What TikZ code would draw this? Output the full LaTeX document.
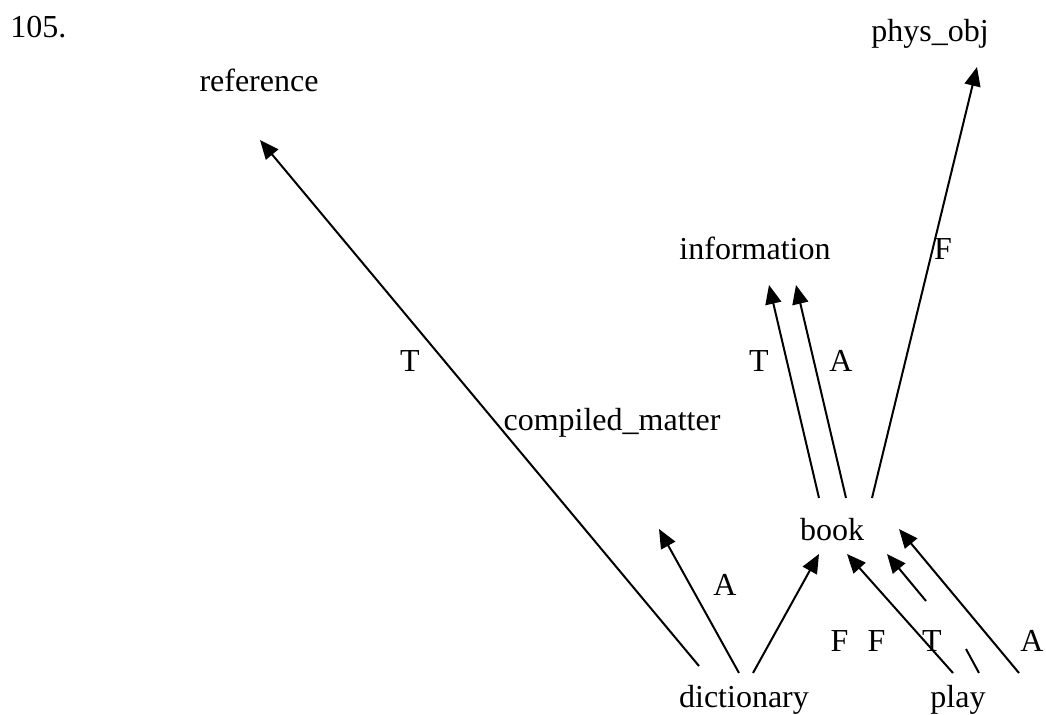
\documentclass[tikz,border=0pt]{standalone}
\usepackage{fontspec}
\setmainfont{Liberation Serif}
\usetikzlibrary{arrows.meta}

\begin{document}
\begin{tikzpicture}[x=0.5pt, y=-0.5pt,
  every node/.style={inner sep=0pt, anchor=base, font=\fontsize{16}{19}\selectfont},
  link/.style={-{Triangle[length=9.5pt,width=8pt]}, line width=1pt}]
  \useasboundingbox (0,0) rectangle (1046,715);
  % concepts
  \node[anchor=base west] (num) at (10,38) {105.};
  \node (reference) at (259,92) {reference};
  \node (physobj) at (930,42) {phys\_obj};
  \node (information) at (755,260) {information};
  \node (compiled) at (612,431) {compiled\_matter};
  \node (book) at (832,541) {book};
  \node (dictionary) at (744,708) {dictionary};
  \node (play) at (958,708) {play};
  % labels
  \node (t1) at (410,372) {T};
  \node (t2) at (759,372) {T};
  \node (a1) at (841,372) {A};
  \node (f1) at (943,260) {F};
  \node (a2) at (725,596) {A};
  \node (f2) at (839.5,652) {F};
  \node (f3) at (876.5,652) {F};
  \node (t3) at (932,652) {T};
  \node (a3) at (1032,652) {A};
  \path[link]
  ([shift={(-45,-42)}]dictionary.base) edge ([shift={(1,48)}]reference.base)
  ([shift={(-5,-35)}]dictionary.base) edge ([shift={(47,98)}]compiled.base)
  ([shift={(9,-35)}]dictionary.base) edge ([shift={(-13,13)}]book.base)
  ([shift={(-13,-43)}]book.base) edge ([shift={(14,25)}]information.base)
  ([shift={(14,-43)}]book.base) edge ([shift={(41,25)}]information.base)
  ([shift={(40,-43)}]book.base) edge ([shift={(47,25)}]physobj.base)
  ([shift={(-5,-35)}]play.base) edge ([shift={(15,13)}]book.base)
  ([shift={(-32,-107)}]play.base) edge ([shift={(55,13)}]book.base)
  ([shift={(61,-35)}]play.base) edge ([shift={(67,-12)}]book.base)
  ;
  \draw[line width=1pt] ([shift={(8,-59)}]play.base) -- ([shift={(21,-35)}]play.base);
\end{tikzpicture}
\end{document}
